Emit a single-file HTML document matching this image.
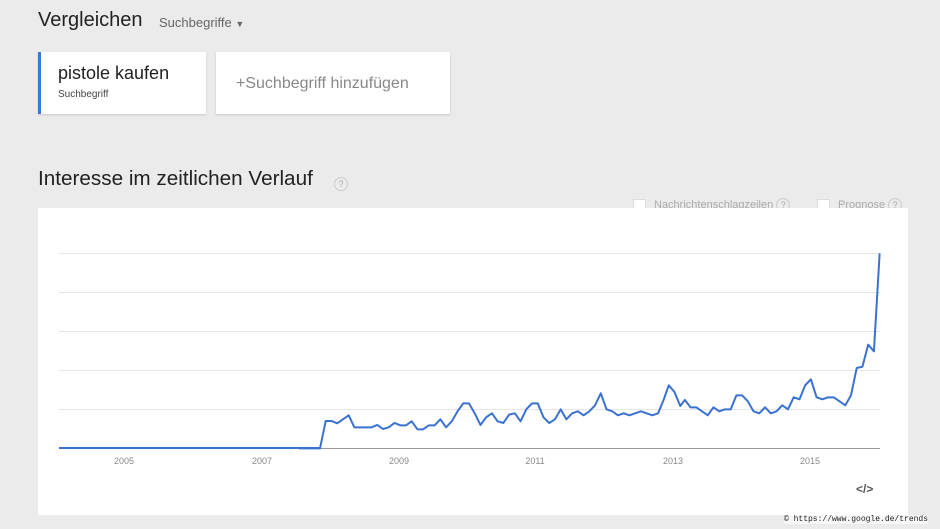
<!DOCTYPE html>
<html><head><meta charset="utf-8"><style>
body{margin:0;width:940px;height:529px;background:#ebebeb;font-family:"Liberation Sans",sans-serif;position:relative;overflow:hidden}
.a{position:absolute;white-space:nowrap}
.card{position:absolute;background:#fff;box-shadow:0 1px 2px rgba(0,0,0,.15)}
.q{display:inline-block;width:12px;height:12px;border:1px solid #ccc;border-radius:50%;font-size:9px;color:#aaa;text-align:center;line-height:12px}
.cb{display:inline-block;width:11px;height:11px;border:1px solid #ddd;background:#fff;vertical-align:middle;margin-right:8px}
</style></head><body>
<div class="a" style="left:38px;top:9px;font-size:20px;color:#222">Vergleichen</div>
<div class="a" style="left:159px;top:15px;font-size:13px;color:#666">Suchbegriffe <span style="font-size:9px">▼</span></div>
<div class="card" style="left:38px;top:52px;width:168px;height:62px;border-left:3px solid #3a78d8;box-sizing:border-box"></div>
<div class="a" style="left:58px;top:63px;font-size:18px;color:#222">pistole kaufen</div>
<div class="a" style="left:58px;top:89px;font-size:10px;color:#444">Suchbegriff</div>
<div class="card" style="left:216px;top:52px;width:234px;height:62px"></div>
<div class="a" style="left:236px;top:75px;font-size:16px;color:#888">+Suchbegriff hinzufügen</div>
<div class="a" style="left:38px;top:167px;font-size:20.7px;color:#222">Interesse im zeitlichen Verlauf</div>
<div class="a" style="left:334px;top:174px"><span class="q">?</span></div>
<div class="a" style="left:633px;top:198px;font-size:11px;color:#aaa"><span class="cb"></span>Nachrichtenschlagzeilen <span class="q">?</span></div>
<div class="a" style="left:817px;top:198px;font-size:11px;color:#aaa"><span class="cb"></span>Prognose <span class="q">?</span></div>
<div class="card" style="left:38px;top:208px;width:870px;height:307px;box-shadow:none"></div>
<svg class="a" style="left:0;top:0" width="940" height="529">
<g stroke="#e6e6e6" stroke-width="1">
<line x1="59" x2="880" y1="253.5" y2="253.5"/><line x1="59" x2="880" y1="292.5" y2="292.5"/>
<line x1="59" x2="880" y1="331.5" y2="331.5"/><line x1="59" x2="880" y1="370.5" y2="370.5"/>
<line x1="59" x2="880" y1="409.5" y2="409.5"/></g>
<line x1="59" x2="880" y1="448.5" y2="448.5" stroke="#999"/>
<g font-size="9" fill="#888" text-anchor="middle" font-family="Liberation Sans,sans-serif">
<text x="124" y="464">2005</text><text x="262" y="464">2007</text><text x="399" y="464">2009</text>
<text x="535" y="464">2011</text><text x="673" y="464">2013</text><text x="810" y="464">2015</text></g>
<line x1="59" x2="320" y1="448" y2="448" stroke="#3a72d0" stroke-width="2"/>
<g transform="translate(299,240) scale(0.382,0.3333)">
<polyline fill="none" stroke="#3a72d0" stroke-width="2" vector-effect="non-scaling-stroke" stroke-linejoin="round" points="0,625 55,625 70,543 85,543 100,550 115,538 130,526 145,562 190,562 205,555 220,567 235,562 250,549 265,556 280,556 295,544 310,568 325,568 340,556 355,556 370,538 385,562 400,544 415,514 430,490 445,490 460,520 475,555 490,532 505,520 520,544 535,549 550,524 565,520 580,544 595,508 610,490 625,490 640,532 655,549 670,538 685,508 700,538 715,520 730,514 745,526 760,514 775,496 790,460 805,508 820,514 835,526 850,520 865,526 880,520 895,514 910,520 925,526 940,520 955,478 968,436 983,456 998,498 1010,480 1025,502 1040,502 1055,514 1070,526 1085,502 1100,514 1115,508 1130,508 1145,466 1160,466 1175,484 1190,514 1205,520 1220,502 1235,520 1250,514 1265,496 1280,508 1295,472 1310,478 1325,436 1340,418 1355,472 1370,478 1385,472 1400,472 1415,484 1430,496 1445,466 1460,384 1475,380 1490,314 1505,334 1520,40"/></g>
</svg>
<div class="a" style="left:856px;top:482px;font-size:12px;color:#555;font-weight:bold">&lt;/&gt;</div>
<div class="a" style="left:784px;top:515px;font-size:8px;color:#222;font-family:'Liberation Mono',monospace;background:rgba(255,255,255,.6)">© https://www.google.de/trends</div>
</body></html>
